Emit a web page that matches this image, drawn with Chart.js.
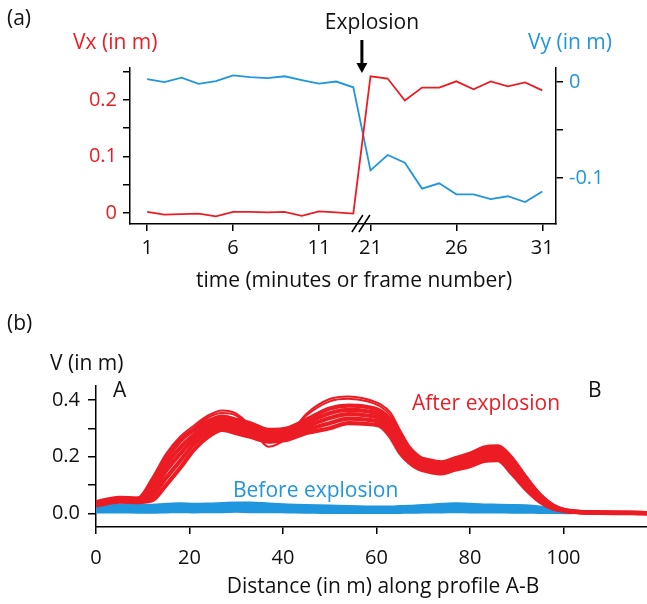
<!DOCTYPE html>
<html><head><meta charset="utf-8">
<script src="https://cdn.jsdelivr.net/npm/chart.js@4.4.1/dist/chart.umd.min.js"></script>
<style>
html,body{margin:0;padding:0;background:#fff;}
#wrap{position:relative;width:647px;height:604px;overflow:hidden;}
canvas{position:absolute;left:0;}
#c1{top:0;} #c2{top:300px;}
</style></head><body>
<div id="wrap"><canvas id="c1" width="647" height="300"></canvas><canvas id="c2" width="647" height="304"></canvas></div>
<script>
// ---------- Panel (a) data ----------
const frames = [1,2,3,4,5,6,7,8,9,10,11,12,13,21,22,23,24,25,26,27,28,29,30,31];
const frameTicks = [1,6,11,21,26,31];
const vx = [0.002,-0.003,-0.002,-0.001,-0.006,0.002,0.002,0.001,0.002,-0.005,0.003,0.001,-0.001,
            0.242,0.238,0.199,0.222,0.222,0.233,0.219,0.233,0.224,0.231,0.217];
const vy = [0.003,0.000,0.0045,-0.002,0.001,0.007,0.005,0.004,0.006,0.002,-0.0017,0.0005,-0.0055,
            -0.092,-0.076,-0.084,-0.111,-0.1055,-0.117,-0.117,-0.122,-0.119,-0.125,-0.114];
const explosionAfterFrame = 13;

// ---------- Panel (b) data ----------
const distance = [0,5,9,12,15,18,21,24,27,30,33,37,41,45,50,54,58,61,63,65,67,69,71,74,77,80,83,86,89,92,95,98,102,108,118];
const after1 = [.036,.052,.056,.125,.210,.270,.310,.345,.363,.352,.310,.235,.268,.350,.403,.412,.402,.383,.355,.295,.238,.205,.186,.170,.185,.208,.236,.240,.200,.132,.070,.030,.008,.003,.001];
const after2 = [.034,.050,.053,.115,.200,.262,.302,.338,.354,.345,.303,.250,.280,.345,.395,.404,.395,.375,.345,.288,.232,.200,.182,.166,.182,.204,.232,.236,.196,.128,.068,.028,.008,.003,.001];
const after3 = [.040,.055,.052,.110,.190,.255,.295,.325,.341,.330,.318,.294,.300,.330,.370,.380,.375,.360,.330,.280,.228,.198,.188,.180,.195,.210,.228,.228,.190,.125,.065,.026,.007,.003,.001];
const after4 = [.037,.052,.049,.094,.170,.232,.278,.312,.329,.318,.305,.283,.290,.318,.353,.365,.360,.346,.315,.264,.216,.188,.178,.170,.185,.199,.217,.218,.178,.115,.059,.023,.007,.003,.001];
const after5 = [.034,.049,.046,.078,.150,.210,.262,.300,.317,.306,.293,.273,.280,.306,.336,.350,.345,.333,.300,.248,.204,.178,.168,.160,.175,.188,.206,.208,.165,.105,.053,.020,.006,.003,.001];
const after6 = [.031,.045,.043,.062,.125,.185,.245,.285,.305,.294,.281,.263,.270,.294,.318,.334,.330,.319,.285,.232,.192,.168,.158,.150,.165,.177,.195,.198,.152,.095,.047,.018,.006,.003,.001];
const after7 = [.028,.041,.040,.046,.100,.160,.225,.270,.294,.283,.270,.253,.260,.283,.300,.318,.315,.306,.270,.215,.180,.158,.148,.141,.155,.166,.185,.188,.140,.085,.041,.016,.005,.002,.001];
const before1 = [.030,.029,.028,.028,.031,.033,.031,.032,.034,.036,.036,.032,.029,.027,.025,.023,.022,.022,.022,.023,.024,.026,.028,.031,.033,.031,.029,.028,.027,.026,.022,.015,.006,null,null];
const before2 = [.022,.021,.020,.020,.023,.024,.023,.024,.025,.027,.026,.024,.021,.019,.018,.017,.016,.016,.016,.017,.017,.019,.020,.022,.024,.023,.021,.020,.020,.019,.016,.011,.005,null,null];
const before3 = [.014,.013,.013,.013,.014,.015,.014,.015,.016,.017,.016,.015,.013,.012,.011,.010,.010,.010,.010,.010,.011,.012,.013,.014,.015,.014,.013,.013,.012,.012,.010,.008,.004,null,null];
const before4 = [.006,.006,.005,.005,.006,.007,.006,.007,.007,.008,.007,.007,.006,.005,.004,.004,.004,.004,.004,.004,.005,.005,.006,.006,.007,.006,.006,.006,.005,.005,.004,.004,.003,null,null];
const afterRuns = [after1, after2, after3, after4, after5, after6, after7];
const beforeRuns = [before1, before2, before3, before4];

// ---------- styling ----------
const RED = '#ec1c24';
const BLUE = '#1f96de';
const FONT = "'Open Sans', 'DejaVu Sans', sans-serif";
const tickFont = {family: FONT, size: 20};
Chart.defaults.font.family = FONT;
Chart.defaults.animation = false;

function axisGrid(len){ return {drawOnChartArea:false, drawTicks:true, tickLength:len, color:'#000', lineWidth:1.5}; }
const axisBorder = {color:'#000', width:1.5};

function textPlugin(items, extra){
  return {id:'txt', afterDraw(chart){
    const ctx = chart.ctx; ctx.save();
    ctx.textBaseline = 'alphabetic';
    items.forEach(t => {
      ctx.font = (t.size||21) + 'px ' + FONT;
      ctx.fillStyle = t.color || '#111';
      ctx.textAlign = t.align || 'left';
      ctx.fillText(t.text, t.x, t.y);
    });
    if (extra) extra(chart, ctx);
    ctx.restore();
  }};
}

// ---------- Panel (a) ----------
const breakPos = frames.indexOf(explosionAfterFrame) + 0.5;
new Chart(document.getElementById('c1'), {
  type: 'line',
  data: {
    datasets: [
      {label:'Vx', data: frames.map((f,i)=>({x:i, y:vx[i]})), yAxisID:'y', borderColor:RED, borderWidth:1.8, pointRadius:0, tension:0},
      {label:'Vy', data: frames.map((f,i)=>({x:i, y:vy[i]})), yAxisID:'y2', borderColor:BLUE, borderWidth:1.8, pointRadius:0, tension:0}
    ]
  },
  options: {
    responsive:false, animation:false,
    layout:{padding:{top:68, left:0, right:0, bottom:0}},
    plugins:{legend:{display:false}, tooltip:{enabled:false}},
    scales:{
      x:{type:'linear', min:-1, max:23.8,
         afterBuildTicks: s => { s.ticks = frameTicks.map(f => ({value: frames.indexOf(f)})); },
         ticks:{font:tickFont, color:'#111', padding:5, maxRotation:0, autoSkip:false,
                callback: v => String(frames[v])},
         grid:axisGrid(7), border:axisBorder,
         afterFit: s => { s.height = 76; }},
      y:{position:'left', min:-0.0195, max:0.2566,
         ticks:{stepSize:0.05, includeBounds:false, font:tickFont, color:RED, padding:6,
                callback: v => { const k = Math.round(v*100); return k % 10 === 0 ? String(k/100) : ''; }},
         grid:axisGrid(7), border:axisBorder,
         afterFit: s => { s.width = 130; }},
      y2:{position:'right', min:-0.1479, max:0.0146,
         ticks:{stepSize:0.05, includeBounds:false, font:tickFont, color:BLUE, padding:6,
                callback: v => { const k = Math.round(v*100); return k % 10 === 0 ? String(k/100) : ''; }},
         grid:axisGrid(7), border:axisBorder,
         afterFit: s => { s.width = 91; }}
    }
  },
  plugins:[textPlugin([
    {text:'(a)', x:7, y:25},
    {text:'Vx (in m)', x:73, y:49, color:RED},
    {text:'Vy (in m)', x:528, y:49, color:BLUE},
    {text:'Explosion', x:372, y:29, align:'center'},
    {text:'time (minutes or frame number)', x:354, y:287, align:'center'}
  ], (chart, ctx) => {
    const xs = chart.scales.x, yb = chart.chartArea.bottom;
    const bx = xs.getPixelForValue(breakPos);
    // axis break marks
    ctx.strokeStyle = '#000'; ctx.lineWidth = 1.5;
    [-4, 3].forEach(dx => {
      ctx.beginPath(); ctx.moveTo(bx + dx - 6, yb + 8); ctx.lineTo(bx + dx + 5, yb - 9); ctx.stroke();
    });
    // explosion arrow
    ctx.fillStyle = '#000';
    ctx.fillRect(bx - 1.5, 40, 3, 25);
    ctx.beginPath(); ctx.moveTo(bx - 5.5, 63); ctx.lineTo(bx + 5.5, 63); ctx.lineTo(bx, 73); ctx.closePath(); ctx.fill();
  })]
});

// ---------- Panel (b) ----------
const dsB = [];
afterRuns.forEach((run, k) => dsB.push({data: distance.map((d,i)=>({x:d, y:run[i]})), borderColor:RED,
  borderWidth: k < 2 ? 2 : 4.2, pointRadius:0, cubicInterpolationMode:'monotone'}));
beforeRuns.forEach(run => dsB.push({data: distance.map((d,i)=>({x:d, y:run[i]})), borderColor:BLUE, borderWidth:3.5,
  pointRadius:0, cubicInterpolationMode:'monotone', spanGaps:false}));

new Chart(document.getElementById('c2'), {
  type:'line',
  data:{datasets: dsB},
  options:{
    responsive:false, animation:false,
    layout:{padding:{top:86, left:0, right:0, bottom:0}},
    plugins:{legend:{display:false}, tooltip:{enabled:false}},
    scales:{
      x:{type:'linear', min:0, max:117.9,
         ticks:{stepSize:20, includeBounds:false, font:tickFont, color:'#111', padding:12, maxRotation:0},
         grid:axisGrid(7), border:axisBorder,
         afterFit: s => { s.height = 77; }},
      y:{min:-0.048, max:0.449,
         ticks:{stepSize:0.1, includeBounds:false, font:tickFont, color:'#111', padding:8,
                callback: v => { const k = Math.round(v*10); return k % 2 === 0 ? (k/10).toFixed(1) : ''; }},
         grid:axisGrid(8), border:axisBorder,
         afterFit: s => { s.width = 96; }}
    }
  },
  plugins:[textPlugin([
    {text:'(b)', x:7, y:30},
    {text:'V (in m)', x:50, y:70},
    {text:'A', x:113, y:97},
    {text:'B', x:588, y:97},
    {text:'After explosion', x:412, y:110, color:RED},
    {text:'Before explosion', x:233, y:197, color:BLUE},
    {text:'Distance (in m) along profile A-B', x:383, y:293, align:'center'}
  ])]
});
</script>
</body></html>
